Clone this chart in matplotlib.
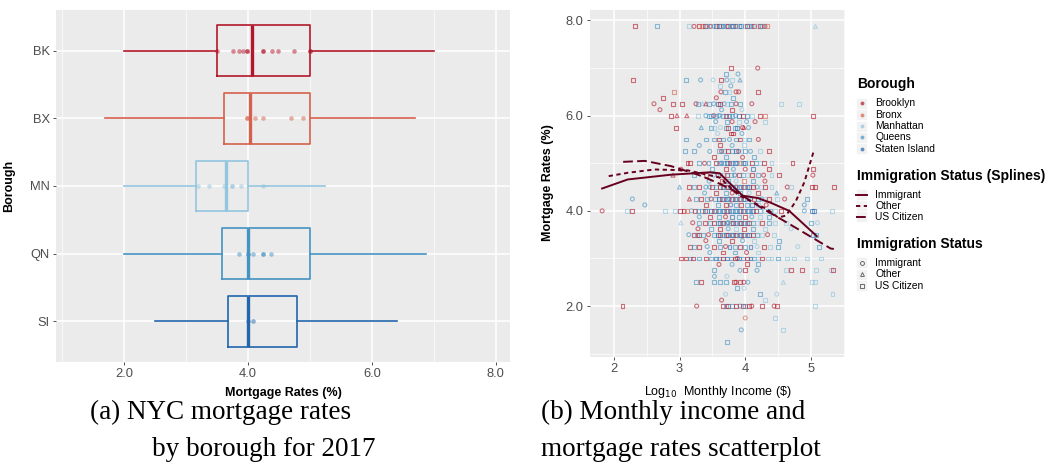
import matplotlib.pyplot as plt
from matplotlib.patches import Rectangle

plt.rcParams['font.family'] = ['Liberation Sans', 'DejaVu Sans']

W, H = 1052, 469

# ---- box plot: mortgage rates by borough ----
boroughs = ["BK", "BX", "MN", "QN", "SI"]
box_colors = ["#B2182B", "#D6604D", "#92C5DE", "#4393C3", "#2166AC"]
q1 = [3.50, 3.62, 3.16, 3.59, 3.68]
median = [4.06, 4.03, 3.645, 4.00, 4.00]
q3 = [5.00, 5.00, 4.00, 5.00, 4.79]
whis_lo = [2.00, 1.70, 2.00, 2.00, 2.50]
whis_hi = [7.00, 6.69, 5.24, 6.88, 6.41]
rate_points = [
    [3.495, 3.76, 3.86, 3.92, 3.99, 3.99, 4.24, 4.24, 4.39, 4.49, 4.74, 5.0, 5.0],
    [3.99, 3.99, 4.12, 4.24, 4.69, 4.89],
    [3.19, 3.37, 3.62, 3.74, 3.74, 3.89, 4.24],
    [3.86, 4.0, 4.0, 4.09, 4.24, 4.24, 4.37],
    [4.0, 4.09],
]

# ---- scatter: log10 income vs mortgage rate ----
# each token: borough code, status code, log10 monthly income
rate_levels = [7.875, 7.0, 6.875, 6.75, 6.625, 6.5, 6.375, 6.25, 6.125, 6.0,
               5.875, 5.75, 5.625, 5.5, 5.375, 5.25, 5.125, 5.0, 4.875, 4.75,
               4.625, 4.5, 4.375, 4.25, 4.125, 4.0, 3.875, 3.75, 3.625, 3.5,
               3.375, 3.25, 3.125, 3.0, 2.875, 2.75, 2.625, 2.5, 2.375, 2.25,
               2.125, 2.0, 1.75, 1.5, 1.25]
level_points = [
    "Ks2.32 Qs2.65 Ms3.15 Kc3.22 Ks3.30 Xs3.34 Ks3.38 Qs3.42 Kc3.47 Qc3.52 Ss3.56 Ks3.60 Qs3.63 Sc3.67 Qs3.70 Ks3.74 "
    "Qs3.78 Ss3.82 Kc3.86 Qs3.90 Ss3.94 Ms3.98 Ks4.02 Qs4.06 Qc4.10 Ks4.14 Ms4.18 Ks4.22 Qs4.26 Kc4.30 Xs4.33 Mo5.07",
    "Ks3.79 Kc4.19",
    "Qs3.70 Qc3.89",
    "Ks2.29 Qs3.10 Qc3.32 Mc3.51 Ks3.63 Qc3.72 Ms3.80 Qo3.92",
    "Ms3.61 Qc3.78",
    "Xs2.91 Kc3.63 Qs3.69 Ms3.76 Kc3.86 Kc3.90 Ks4.19",
    "Ks2.75 Kc3.56 Qs3.82",
    "Kc2.61 Ks2.90 Ks3.03 Kc3.25 Qs3.28 Mo3.35 Ko3.40 Qs3.45 Qc3.52 Ss3.58 Ks3.62 Qc3.68 Ms3.72 Qs3.79 Kc3.86 "
    "Qs3.92 Kc4.10 Ms4.55 Ms4.82",
    "Kc2.70 Qc3.64 Ks3.80 Mc3.95",
    "Ks2.87 Ko2.96 Ko3.11 Ms3.28 Qc3.40 Qs3.45 Qs3.48 Kc3.52 Qs3.56 Sc3.60 Mc3.62 Qs3.66 Ks3.70 Ss3.75 Qs3.80 "
    "Qc3.85 Ss3.90 Ks3.96 Qs4.02 Ms4.10 Ks4.22 Xs4.30 Ks5.03",
    "Qc3.55 Qs3.72 Kc3.80 Ms3.90 Qc4.02 Kc4.15 Ms4.30",
    "Ks2.95 Qo3.33 Qs3.48 Ms3.52 Mc3.62 Qs3.70 Ks3.74 Qs3.84 Ss3.88 Kc3.96 Ko3.98 Qc4.05",
    "Mc3.58 Ks3.78 Ks3.82 Qc3.95",
    "Qs3.10 Qs3.40 Qs3.52 Ks3.60 Qs3.66 Qc3.76 Qs3.86 Ks3.92 Ms3.98 Qs4.06 Kc4.20",
    "Qc3.30 Ks3.62 Qc3.80 Ms3.98",
    "Qs3.08 Qs3.22 Qc3.46 Qs3.60 Kc3.64 Qs3.68 Ks3.74 Qs3.80 Ss3.86 Kc3.90 Ms3.94 Qs4.00 Qc4.08 Ms4.22 Ks4.36",
    "Ks3.52 Qs3.70 Kc3.96 Qs4.14",
    "Ks3.12 Ks3.16 Qs3.30 Kc3.38 Qs3.44 Ks3.55 Qs3.60 Sc3.64 Qs3.68 Ss3.72 Ks3.76 Qs3.80 Ss3.84 Qc3.88 Xs3.92 "
    "Qs3.96 Ss4.00 Ms4.04 Ks4.10 Qs4.16 Ms4.22 Ks4.28 Ms4.40 Ks4.72",
    "Kc3.02 Qs3.50 Ks3.70 Qc3.82 Kc4.00 Ss4.12 Ks4.36 Ks5.03",
    "Ko2.90 Qs3.22 Ks3.40 Qc3.52 Ks3.58 Qs3.62 Ms3.68 Ks3.72 Qs3.78 Sc3.84 Ks3.90 Qs3.96 Ms4.02 Ks4.10 Qs4.20 "
    "Kc4.28 Ms4.40 Ks4.52 Kc5.03",
    "Qc3.45 Ks3.64 Qs3.74 Mc3.86 Xs3.98 Qs4.12 Kc4.30",
    "Qo3.00 Ks3.15 Qs3.22 Ks3.30 Qc3.40 Qc3.46 Ks3.50 Qs3.56 Ks3.62 Ss3.66 Qs3.70 Ks3.74 Ss3.78 Qs3.82 Kc3.86 "
    "Ss3.90 Qs3.94 Ks3.98 Qs4.02 Ss4.06 Ks4.12 Qc4.18 Ms4.24 Ks4.30 Ms4.40 Kc4.64 Ms4.70 Ks5.02 Ks5.07 Ks5.35",
    "Qc3.38 Ks3.56 Qs3.70 Kc3.80 Qs3.92 Mc4.06 Ks4.20 Qo4.48",
    "Qc2.28 Ko3.15 Qs3.25 Ks3.32 Qs3.42 Kc3.48 Qs3.54 Ss3.60 Ks3.64 Qs3.68 Ss3.72 Qc3.76 Ks3.80 Ss3.84 Qs3.88 "
    "Ks3.92 Qs3.96 Ss4.00 Ms4.04 Qc4.08 Ks4.14 Qs4.20 Qc4.25 Ms4.28 Ks4.36 Ms4.48 Kc4.60 Qs4.94",
    "Qc2.47 Ks3.40 Qs3.58 Ks3.70 Sc3.78 Qs3.86 Ks3.94 Qs4.02 Ss4.10 Ms4.20 Kc4.32 Qc4.90",
    "Kc1.82 Ms2.20 Ks2.27 Ms2.78 Ms2.93 Ks3.00 Ks3.06 Xs3.12 Qc3.18 Ks3.24 Qs3.28 Qs3.34 Ks3.38 Qs3.42 Ss3.48 "
    "Ks3.52 Qs3.56 Ss3.60 Qs3.64 Ss3.68 Ks3.72 Ss3.76 Qs3.80 Ss3.84 Qs3.88 Ss3.92 Ks3.96 Qs4.00 Ss4.04 Qs4.08 "
    "Ss4.12 Ks4.16 Qs4.22 Ms4.30 Qs4.38 Ms4.46 Ks4.55 Qc4.90 Ss5.02 Ss5.05 Ms5.32",
    "Qc3.30 Ks3.46 Qs3.60 Kc3.70 Ss3.80 Qs3.90 Ks4.00 Qc4.10 Ms4.22 Qs4.36",
    "Mo3.02 Kc3.20 Qs3.30 Ks3.38 Qs3.46 Ks3.52 Qs3.58 Ss3.62 Ks3.66 Qs3.70 Sc3.74 Qs3.78 Ks3.82 Ss3.86 Qs3.90 "
    "Ks3.94 Ss3.98 Qs4.02 Ks4.06 Qs4.12 Ms4.18 Ks4.26 Qs4.36 Ms4.46 Ms4.62 Qs5.00 Mc5.10",
    "Kc3.28 Qs3.48 Ks3.62 Qc3.74 Ms3.86 Ks3.98 Qs4.12 Ms4.30 Mc4.70",
    "Qc3.14 Ks3.22 Qs3.26 Ks3.30 Qs3.36 Kc3.44 Qs3.52 Ss3.58 Ks3.62 Qs3.66 Ss3.70 Ks3.74 Qs3.78 Ss3.82 Ks3.86 "
    "Qs3.90 Ss3.94 Ks3.98 Qs4.02 Ss4.06 Ks4.12 Qs4.18 Ms4.26 Kc4.34 Ms4.44 Ss5.03 Qs5.08",
    "Kc3.40 Qs3.60 Ks3.80 Qc3.96 Ms4.14 Qs4.52",
    "Ks3.16 Qs3.22 Ks3.30 Qc3.42 Ks3.52 Qs3.62 Kc3.70 Ss3.76 Qs3.84 Ks3.92 Qs4.00 Ss4.08 Mc4.18 Ks4.28 Ms4.38 "
    "Qs4.50 Mc4.80 Qs5.12",
    "Qc3.46 Ks3.66 Qs3.84 Kc4.02 Ms4.20",
    "Ks3.02 Ks3.10 Qs3.16 Ks3.20 Qs3.30 Ks3.40 Qs3.48 Ss3.55 Qs3.60 Ks3.66 Ss3.72 Qs3.78 Ks3.84 Kc3.88 Ss3.90 "
    "Qs3.96 Ks4.02 Ss4.08 Qs4.14 Ms4.20 Ks4.26 Ms4.34 Ms4.40 Qs4.50 Ms4.64 Ms4.74 Ms4.94 Ms5.16",
    "Kc3.60 Qc3.80 Ks4.02 Qs4.20",
    "Qs3.53 Qc3.92 Ks4.00 Qc4.18 Ms4.62 Ks4.70 Ks4.86 Ms5.08 Ms5.30 Ks5.34",
    "Qc3.53 Mc3.72",
    "Qs3.25 Ks3.33 Qs3.53 Qs3.62 Qs3.70 Ks3.83 Kc3.86 Ks3.92 Kc3.98 Qc4.04 Mo4.58 Ms5.02 Ms5.06",
    "Qs3.88 Mc3.98",
    "Mc3.70 Qs4.22 Mc4.48 Ms5.33",
    "Kc3.64 Ms4.30",
    "Ks2.13 Kc3.26 Ks3.66 Qs3.70 Ks3.74 Qs3.80 Ks3.86 Qc3.92 Ks3.96 Qs4.00 Ks4.06 Kc4.10 Ks4.26 Kc4.44 Ks4.48 Ms5.06",
    "Xc4.00 Ms4.46",
    "Qc3.94 Ms4.58",
    "Qs3.72",
]
borough_names = ["Brooklyn", "Bronx", "Manhattan", "Queens", "Staten Island"]
borough_codes = ["K", "X", "M", "Q", "S"]
status_names = ["Immigrant", "Other", "US Citizen"]
status_codes = ["c", "o", "s"]
status_markers = ["o", "^", "s"]

# smoothing splines per immigration status
imm_x = [1.82, 2.21, 2.87, 3.46, 3.61, 3.78, 3.96, 4.19, 4.39, 4.67, 5.09]
imm_y = [4.47, 4.66, 4.76, 4.81, 4.79, 4.56, 4.32, 4.27, 4.17, 4.00, 3.47]
oth_x = [1.92, 2.21, 2.62, 3.13, 3.61, 3.89, 4.09, 4.34, 4.50, 4.62, 4.77, 4.90, 5.04]
oth_y = [4.73, 4.80, 4.87, 4.85, 4.70, 4.34, 4.20, 4.03, 3.86, 3.90, 4.20, 4.60, 5.24]
cit_x = [2.14, 2.47, 2.87, 3.28, 3.58, 3.89, 4.24, 4.69, 5.30, 5.35]
cit_y = [5.03, 5.05, 4.94, 4.76, 4.59, 4.38, 4.07, 3.71, 3.21, 3.20]
spline_color = "#67001F"

fig = plt.figure(figsize=(W / 100, H / 100), dpi=100)


def fx(px):
    return px / W


def fy(py):
    return 1 - py / H


def style_gg(ax):
    ax.set_facecolor("#EBEBEB")
    for s in ax.spines.values():
        s.set_visible(False)
    ax.grid(True, which="major", color="white", linewidth=1.1)
    ax.grid(True, which="minor", color="white", linewidth=0.5)
    ax.set_axisbelow(True)
    ax.tick_params(which="major", length=2.5, width=0.6, color="#333333",
                   labelcolor="#4D4D4D", labelsize=9.3, pad=2)
    ax.tick_params(which="minor", length=0)


# left panel
ax1 = fig.add_axes([fx(56), fy(362), fx(510) - fx(56), fy(10) - fy(362)])
style_gg(ax1)
positions = [5, 4, 3, 2, 1]
for i, b in enumerate(boroughs):
    c = box_colors[i]
    stats = [dict(q1=q1[i], med=median[i], q3=q3[i], whislo=whis_lo[i], whishi=whis_hi[i])]
    ax1.bxp(stats, positions=[positions[i]], widths=0.75, orientation="horizontal",
            showfliers=False, showcaps=False,
            boxprops=dict(color=c, linewidth=1.2),
            whiskerprops=dict(color=c, linewidth=1.2),
            medianprops=dict(color=c, linewidth=2.4))
    ax1.plot(rate_points[i], [positions[i]] * len(rate_points[i]), "o", color=c,
             markersize=3.3, alpha=0.5, markeredgewidth=0)
ax1.set_xlim(0.903, 8.23)
ax1.set_ylim(0.4, 5.6)
ax1.set_xticks([2, 4, 6, 8])
ax1.set_xticklabels(["2.0", "4.0", "6.0", "8.0"])
ax1.set_xticks([1, 3, 5, 7], minor=True)
ax1.set_yticks(positions)
ax1.set_yticklabels(boroughs)

fig.text(fx(283), fy(393), "Mortgage Rates (%)", ha="center", va="center",
         fontsize=9, fontweight="bold")
fig.text(fx(9), fy(186), "Borough", ha="center", va="center", rotation=90,
         fontsize=9, fontweight="bold")

# right panel
ax2 = fig.add_axes([fx(590), fy(357), fx(845) - fx(590), fy(10) - fy(357)])
style_gg(ax2)
code_color = dict(zip(borough_codes, box_colors))
for sc, mk in zip(status_codes, status_markers):
    xs, ys, cs = [], [], []
    for r, row in zip(rate_levels, level_points):
        for tok in row.split():
            if tok[1] == sc:
                xs.append(float(tok[2:]))
                ys.append(r)
                cs.append(code_color[tok[0]])
    ax2.scatter(xs, ys, marker=mk, s=8, facecolors="none", edgecolors=cs,
                linewidths=0.8, alpha=0.6)
ax2.plot(imm_x, imm_y, color=spline_color, linewidth=1.4)
ax2.plot(oth_x, oth_y, color=spline_color, linewidth=1.4, linestyle=(0, (2.2, 1.8)))
ax2.plot(cit_x, cit_y, color=spline_color, linewidth=1.4, linestyle=(0, (5, 2.2)))
ax2.set_xlim(1.635, 5.52)
ax2.set_ylim(0.93, 8.22)
ax2.set_xticks([2, 3, 4, 5])
ax2.set_xticks([2.5, 3.5, 4.5, 5.5], minor=True)
ax2.set_yticks([2, 4, 6, 8])
ax2.set_yticklabels(["2.0", "4.0", "6.0", "8.0"])
ax2.set_yticks([1, 3, 5, 7], minor=True)

fig.text(fx(718), fy(392), r"Log$_{10}$  Monthly Income (\$)", ha="center", va="center",
         fontsize=9)
fig.text(fx(548), fy(183), "Mortgage Rates (%)", ha="center", va="center", rotation=90,
         fontsize=9, fontweight="bold")

# legends, drawn in pixel space
lax = fig.add_axes([0, 0, 1, 1])
lax.set_xlim(0, W)
lax.set_ylim(H, 0)
lax.axis("off")


def legend_title(y, text):
    lax.text(857, y, text, ha="left", va="center", fontsize=10, fontweight="bold")


def legend_row(y, text):
    lax.add_patch(Rectangle((856, y - 5.5), 11, 11, facecolor="#F2F2F2", edgecolor="white",
                            linewidth=0.5))
    lax.text(875, y, text, ha="left", va="center", fontsize=7.4)


legend_title(84, "Borough")
for i, name in enumerate(borough_names):
    y = 103.5 + i * 11.3
    legend_row(y, name)
    lax.plot(861.5, y, "o", color=box_colors[i], markersize=2.8, alpha=0.7, markeredgewidth=0)

legend_title(176, "Immigration Status (Splines)")
for i, (name, ls) in enumerate(zip(status_names, ["-", (0, (2.2, 1.8)), (0, (5, 2.2))])):
    y = 195 + i * 11
    legend_row(y, name)
    lax.plot([856, 867], [y, y], color=spline_color, linewidth=1.4, linestyle=ls)

legend_title(244, "Immigration Status")
for i, (name, mk) in enumerate(zip(status_names, status_markers)):
    y = 263 + i * 11.3
    legend_row(y, name)
    lax.plot(861.5, y, mk, markersize=2.8, markerfacecolor="none", markeredgecolor="#555555",
             markeredgewidth=0.6)

# captions
cap = dict(family=["Liberation Serif", "DejaVu Serif"], fontsize=19.5, va="center", ha="left")
fig.text(fx(90), fy(412), "(a) NYC mortgage rates", **cap)
fig.text(fx(152), fy(449), "by borough for 2017", **cap)
fig.text(fx(541), fy(412), "(b) Monthly income and", **cap)
fig.text(fx(541), fy(449), "mortgage rates scatterplot", **cap)

fig.savefig("out.png", dpi=100)
